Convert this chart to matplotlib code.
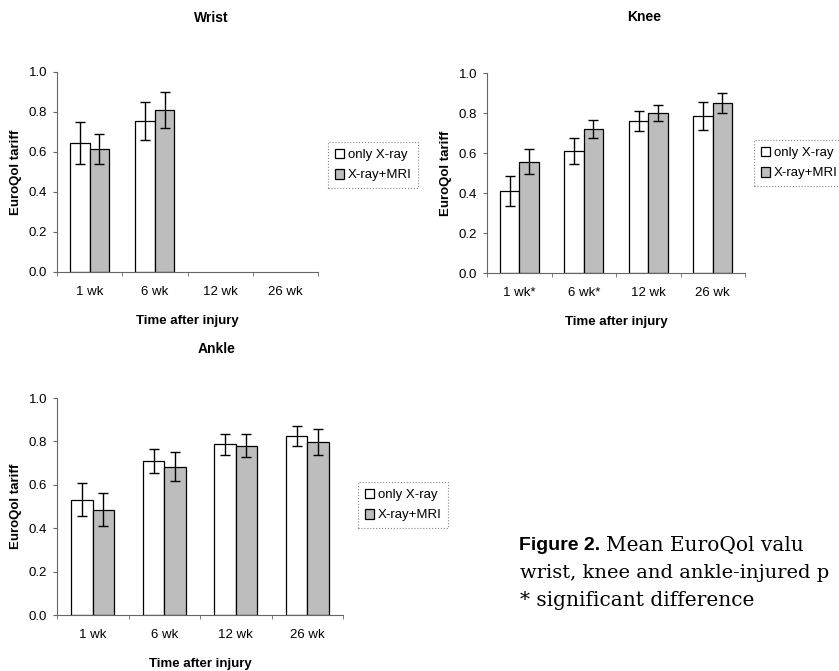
import numpy as np
import matplotlib
matplotlib.use("Agg")
import matplotlib.pyplot as plt
from matplotlib.ticker import FixedLocator, FormatStrFormatter

plt.rcParams["font.family"] = ["Liberation Sans", "DejaVu Sans"]

W, H = 839, 671

weeks = ["1 wk", "6 wk", "12 wk", "26 wk"]
weeks_knee = ["1 wk*", "6 wk*", "12 wk", "26 wk"]
groups = ["only X-ray", "X-ray+MRI"]

# means and error half-widths
wrist_xray = [0.645, 0.755, np.nan, np.nan]
wrist_xray_err = [0.105, 0.095, np.nan, np.nan]
wrist_mri = [0.615, 0.81, np.nan, np.nan]
wrist_mri_err = [0.075, 0.09, np.nan, np.nan]

knee_xray = [0.41, 0.61, 0.76, 0.785]
knee_xray_err = [0.075, 0.065, 0.052, 0.068]
knee_mri = [0.556, 0.72, 0.80, 0.85]
knee_mri_err = [0.062, 0.046, 0.041, 0.048]

ankle_xray = [0.532, 0.71, 0.787, 0.824]
ankle_xray_err = [0.074, 0.056, 0.048, 0.047]
ankle_mri = [0.486, 0.684, 0.781, 0.797]
ankle_mri_err = [0.075, 0.067, 0.055, 0.06]

# caption lines as far as they show in the (cropped) source
caption_lines = ["Mean EuroQol valu", "wrist, knee and ankle-injured p",
                 "* significant difference"]


def px_axes(fig, left, top, right, bottom):
    return fig.add_axes([left / W, 1 - bottom / H, (right - left) / W, (bottom - top) / H])


def panel(fig, box, title, title_xy, labels, xray, xray_err, mri, mri_err, legend_xy):
    ax = px_axes(fig, *box)
    x = np.arange(len(labels))
    w = 0.3
    ax.bar(x - w / 2, xray, w, color="white", edgecolor="black", linewidth=0.9,
           label=groups[0])
    ax.bar(x + w / 2, mri, w, color="#bdbdbd", edgecolor="black", linewidth=0.9,
           label=groups[1])
    ax.errorbar(x - w / 2, xray, yerr=xray_err, fmt="none", ecolor="black",
                elinewidth=1, capsize=3.5, capthick=1)
    ax.errorbar(x + w / 2, mri, yerr=mri_err, fmt="none", ecolor="black",
                elinewidth=1, capsize=3.5, capthick=1)

    ax.set_xlim(-0.5, len(labels) - 0.5)
    ax.set_ylim(0, 1.0)
    ax.set_yticks(np.arange(0, 1.01, 0.2))
    ax.yaxis.set_major_formatter(FormatStrFormatter("%.1f"))
    ax.set_xticks(x)
    ax.set_xticklabels(labels)
    ax.xaxis.set_minor_locator(FixedLocator(np.arange(-0.5, len(labels), 1.0)))
    ax.tick_params(axis="x", which="major", length=0, pad=10, labelsize=9.5)
    ax.tick_params(axis="x", which="minor", length=3, color="#666666", direction="out")
    ax.tick_params(axis="y", length=3, color="#666666", pad=4, labelsize=9.5)
    for s in ["top", "right"]:
        ax.spines[s].set_visible(False)
    for s in ["left", "bottom"]:
        ax.spines[s].set_color("#666666")
        ax.spines[s].set_linewidth(0.8)

    ax.set_xlabel("Time after injury", fontsize=9.5, fontweight="bold", labelpad=12)
    ax.set_ylabel("EuroQol tariff", fontsize=9.5, fontweight="bold", labelpad=5)
    fig.text(title_xy[0] / W, 1 - title_xy[1] / H, title, ha="center", va="center",
             fontsize=10, fontweight="bold")

    leg = ax.legend(loc="upper left", bbox_to_anchor=(legend_xy[0] / W, 1 - legend_xy[1] / H),
                    bbox_transform=fig.transFigure, borderaxespad=0, fontsize=9.5,
                    handlelength=0.75, handleheight=0.75, handletextpad=0.25,
                    labelspacing=0.6, borderpad=0.5, fancybox=False, framealpha=1)
    leg.get_frame().set_edgecolor("#888888")
    leg.get_frame().set_linestyle(":")
    leg.get_frame().set_linewidth(0.8)
    return ax


fig = plt.figure(figsize=(W / 100, H / 100), dpi=100)

panel(fig, (57, 72, 318, 272), "Wrist", (211, 18), weeks,
      wrist_xray, wrist_xray_err, wrist_mri, wrist_mri_err, (328, 142))
panel(fig, (487, 73, 745, 273), "Knee", (644, 17), weeks_knee,
      knee_xray, knee_xray_err, knee_mri, knee_mri_err, (754, 140))
panel(fig, (57, 398, 343, 615), "Ankle", (217, 349), weeks,
      ankle_xray, ankle_xray_err, ankle_mri, ankle_mri_err, (358, 482))

# caption
fig.text(519 / W, 1 - 545 / H, "Figure 2.", ha="left", va="center",
         fontsize=14, fontweight="bold")
serif = ["DejaVu Serif"]
fig.text(606 / W, 1 - 545 / H, caption_lines[0], ha="left", va="center",
         fontsize=14.5, family=serif)
fig.text(520 / W, 1 - 573 / H, caption_lines[1], ha="left",
         va="center", fontsize=14, family=serif)
fig.text(520 / W, 1 - 600 / H, caption_lines[2], ha="left", va="center",
         fontsize=14.5, family=serif)

fig.savefig("out.png", dpi=100)
